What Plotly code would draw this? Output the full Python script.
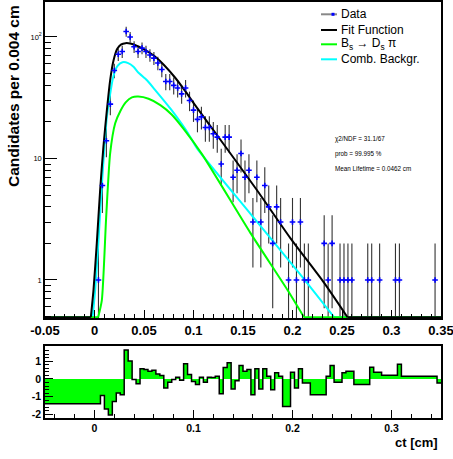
import numpy as np
import plotly.graph_objects as go

# ---------------- data ----------------
BIN_LO, BIN_HI, BIN_W = -0.05, 0.35, 0.004
edges = np.round(np.arange(BIN_LO, BIN_HI + BIN_W / 2, BIN_W), 6)
centers = 0.5 * (edges[:-1] + edges[1:])

# candidates per 0.004 cm bin (100 bins from -0.05 to 0.35)
counts = [
    0, 0, 0, 0, 0, 0, 0, 0, 0, 0,
    0, 0, 0, 1, 6, 14, 28, 53, 72, 76,
    111, 100, 83, 76, 81, 76, 71, 67, 61, 54,
    43, 43, 40, 38, 34, 38, 30, 25, 21, 22,
    18, 18, 16, 15, 9, 15, 15, 7, 8, 11,
    7, 8, 3, 7, 3, 6, 4, 2, 4, 3,
    0, 1, 3, 1, 3, 1, 1, 0, 0, 0,
    2, 1, 2, 0, 1, 1, 1, 1, 0, 0,
    0, 1, 1, 0, 1, 0, 0, 0, 1, 1,
    0, 0, 0, 0, 0, 0, 0, 0, 1, 0,
]

# normalised residuals per bin
residuals = [
    -1.40, -1.40, -1.40, -1.40, -1.40, -1.40, -1.40, -1.40, -1.40, -1.40,
    -1.40, -1.40, -1.40, -1.40, -0.94, -1.70, -2.03, -1.27, -0.80, -0.89,
    1.63, 1.00, -0.04, -0.27, 0.57, 0.53, 0.43, 0.49, 0.28, 0.19,
    -0.51, -0.19, -0.04, 0.09, -0.08, 0.85, 0.24, -0.14, -0.32, 0.09,
    -0.19, 0.09, 0.08, 0.15, -0.83, 0.64, 0.91, -0.57, -0.10, 0.76,
    0.43, 0.53, -0.89, 0.57, -0.57, 0.57, 0.15, -0.61, 0.34, 0.15,
    -1.56, -1.56, 0.38, -0.51, 0.57, -0.23, -0.23, -0.89, -0.89, -0.89,
    -0.89, 0.15, 0.76, -0.19, -0.19, 0.34, 0.43, 0.43, -0.32, -0.32,
    -0.32, -0.32, 0.66, 0.38, 0.38, 0.21, 0.21, 0.21, 0.21, 0.82,
    0.15, 0.15, 0.15, 0.15, 0.15, 0.15, 0.15, 0.15, 0.15, -0.23,
]

# total fit function
fit_x = [-0.05, -0.0037, -0.001, 0.0023, 0.0057, 0.009, 0.0125, 0.0158, 0.0192,
         0.023, 0.027, 0.0313, 0.036, 0.0408, 0.051, 0.0608, 0.0709, 0.0813,
         0.0915, 0.1016, 0.1305, 0.164, 0.198, 0.2318, 0.2555, 0.35]
fit_y = [0, 0.49, 0.83, 2.0, 5.5, 12.5, 25, 44, 64,
         80, 87, 89, 88.5, 86, 78.5, 69.3, 58, 46.4,
         36, 27.5, 13.1, 5.5, 2.2, 0.95, 0.49, 0]

# signal component  B_s -> D_s pi
sig_x = [-0.05, 0.0037, 0.0074, 0.0118, 0.0158, 0.0209, 0.026, 0.0315, 0.0378,
         0.0442, 0.0546, 0.0665, 0.0779, 0.090, 0.1087, 0.1576, 0.1948, 0.2116, 0.35]
sig_y = [0, 0.49, 0.68, 3.3, 11, 19.5, 24.5, 29, 31.8,
         32.3, 31, 27.5, 23, 17.5, 10.8, 2.43, 0.83, 0.49, 0]

# combinatorial background component
bkg_x = [-0.05, -0.0019, 0.0008, 0.004, 0.0074, 0.0125, 0.0192, 0.0235, 0.0283,
         0.034, 0.0394, 0.0442, 0.053, 0.0608, 0.0779, 0.0948, 0.1036, 0.1576,
         0.2082, 0.242, 0.35]
bkg_y = [0, 0.49, 0.85, 2.1, 6.0, 22, 48, 58, 62,
         61, 57, 51, 44, 37, 25, 16, 12.1, 3.5,
         1.10, 0.49, 0]

stats_lines = ["χ2/NDF = 31.1/67", "prob = 99.995 %", "Mean Lifetime = 0.0462 cm"]
legend_labels = ["Data", "Fit Function", "B<sub>s</sub> → D<sub>s</sub> π", "Comb. Backgr."]

# ---------------- styling ----------------
W, H = 453, 459
FONT = "Liberation Sans"
LOG_LO, LOG_HI = -0.313, 2.288
Y_FLOOR = 10 ** LOG_LO * 1.015   # curves are pinned to the frame bottom like ROOT does
C_FIT, C_SIG, C_BKG = "black", "#00ff00", "#00ffff"
legend_colors = ["#888888", C_FIT, C_SIG, C_BKG]


def px(x):
    return x / W


def py(y):
    return 1 - y / H


fig = go.Figure()

# error bars (sqrt(N))
ex, ey = [], []
for c, n in zip(centers, counts):
    if n > 0:
        s = np.sqrt(n)
        ex += [c, c, None]
        ey += [max(n - s, 1e-3), n + s, None]
fig.add_trace(go.Scatter(x=ex, y=ey, mode="lines", line=dict(color="#333333", width=1.1),
                         xaxis="x", yaxis="y", hoverinfo="skip"))


def add_curve(cx, cy, col):
    """Smooth part drawn as a spline; the stretches clamped at the frame floor stay straight."""
    cx = np.asarray(cx, float)
    cy = np.maximum(np.asarray(cy, float), Y_FLOOR)
    above = np.where(cy > Y_FLOOR * 1.001)[0]
    i0, i1 = max(above[0] - 1, 0), min(above[-1] + 1, len(cx) - 1)
    pieces = [(cx[:i0 + 1], cy[:i0 + 1], "linear"),
              (cx[i0:i1 + 1], cy[i0:i1 + 1], "spline"),
              (cx[i1:], cy[i1:], "linear")]
    for xs, ys, shape in pieces:
        if len(xs) < 2:
            continue
        line = dict(color=col, width=2, shape=shape)
        if shape == "spline":
            line["smoothing"] = 0.6
        fig.add_trace(go.Scatter(x=xs, y=ys, mode="lines", line=line,
                                 xaxis="x", yaxis="y", hoverinfo="skip"))


add_curve(bkg_x, bkg_y, C_BKG)
add_curve(sig_x, sig_y, C_SIG)
add_curve(fit_x, fit_y, C_FIT)

# data points
mask = np.array(counts) > 0
fig.add_trace(go.Scatter(x=centers[mask], y=np.array(counts)[mask], mode="markers",
                         marker=dict(symbol="cross-thin", size=4, color="#0000ff",
                                     line=dict(color="#0000ff", width=1.6)),
                         xaxis="x", yaxis="y"))

# residual histogram
fig.add_trace(go.Scatter(x=edges, y=list(residuals) + [residuals[-1]], mode="lines",
                         line=dict(color="black", width=1.5, shape="hv"),
                         fill="tozeroy", fillcolor="#00ff00",
                         xaxis="x2", yaxis="y2", hoverinfo="skip"))

axis_common = dict(showline=True, linecolor="black", linewidth=1.5, mirror=True,
                   showgrid=False, zeroline=False, ticks="inside", tickcolor="black",
                   tickwidth=1, automargin=False, ticklabeloverflow="allow")

top_xticks = [-0.05, 0, 0.05, 0.1, 0.15, 0.2, 0.25, 0.3, 0.35]
bot_xticks = [0, 0.1, 0.2, 0.3]
bot_yticks = [-2, -1, 0, 1]
log_minor = [0.5, 0.6, 0.7, 0.8, 0.9] + list(range(2, 10)) + list(range(20, 100, 10)) + [200]

fig.update_layout(
    width=W, height=H, margin=dict(l=0, r=0, t=0, b=0, autoexpand=False),
    paper_bgcolor="white", plot_bgcolor="white", showlegend=False,
    font=dict(family=FONT, color="black"),
    xaxis=dict(axis_common, domain=[px(45), px(441)], range=[BIN_LO, BIN_HI], anchor="y",
               tickmode="array", tickvals=top_xticks,
               ticktext=["-0.05", "0", "0.05", "0.1", "0.15", "0.2", "0.25", "0.3", "0.35"],
               ticklen=8, tickfont=dict(family=FONT, size=13, weight="bold", color="black"),
               minor=dict(ticks="inside", tickmode="linear", tick0=-0.05, dtick=0.01,
                          ticklen=4, tickcolor="black", showgrid=False)),
    yaxis=dict(axis_common, type="log", domain=[py(318), py(2)], range=[LOG_LO, LOG_HI],
               anchor="x", tickmode="array", tickvals=[1, 10, 100],
               ticktext=["1", "10", "10<sup>2</sup>"], ticklen=12,
               tickfont=dict(family=FONT, size=7.5, color="black"),
               minor=dict(ticks="inside", tickmode="array", tickvals=log_minor,
                          ticklen=6, tickcolor="black", showgrid=False)),
    xaxis2=dict(axis_common, domain=[px(45), px(441)], range=[BIN_LO, BIN_HI], anchor="y2",
                tickmode="array", tickvals=bot_xticks, ticktext=["0", "0.1", "0.2", "0.3"],
                ticklen=8, tickfont=dict(family=FONT, size=10.5, weight="bold", color="black"),
                minor=dict(ticks="inside", tickmode="linear", tick0=0, dtick=0.02,
                           ticklen=4, tickcolor="black", showgrid=False)),
    yaxis2=dict(axis_common, domain=[py(418), py(346)], range=[-2.2, 1.85], anchor="x2",
                tickmode="array", tickvals=bot_yticks, ticktext=["-2", "-1", "0", "1"],
                ticklen=8, tickfont=dict(family=FONT, size=10.5, weight="bold", color="black"),
                minor=dict(ticks="inside", tickmode="linear", tick0=0, dtick=0.2,
                           ticklen=4, tickcolor="black", showgrid=False)),
)

annotations = [
    dict(text="<b>Candidates per 0.004 cm</b>", textangle=-90, x=px(14), y=py(3),
         xanchor="center", yanchor="top", font=dict(size=15.5)),
    dict(text="<b>ct [cm]</b>", x=px(440), y=py(442), xanchor="right", yanchor="middle",
         font=dict(size=13)),
]
# legend
rows = [14.3, 30, 44.3, 59.3]
shapes = []
for lab, col, ry in zip(legend_labels, legend_colors, rows):
    annotations.append(dict(text=lab, x=px(339), y=py(ry), xanchor="left", yanchor="middle",
                            font=dict(size=12)))
    shapes.append(dict(type="line", xref="paper", yref="paper", x0=px(321), x1=px(337),
                       y0=py(ry), y1=py(ry), line=dict(color=col, width=2)))
shapes.append(dict(type="rect", xref="paper", yref="paper", x0=px(331.5), x1=px(334.5),
                   y0=py(rows[0] + 1.5), y1=py(rows[0] - 1.5), fillcolor="#0000ff",
                   line=dict(width=0)))
# fit statistics
for txt, ry in zip(stats_lines, [139, 154, 168.3]):
    annotations.append(dict(text=txt, x=px(333), y=py(ry), xanchor="left", yanchor="middle",
                            font=dict(size=6.3)))

for a in annotations:
    a.update(xref="paper", yref="paper", showarrow=False)
fig.update_layout(annotations=annotations, shapes=shapes)

fig.write_html("out.html")
